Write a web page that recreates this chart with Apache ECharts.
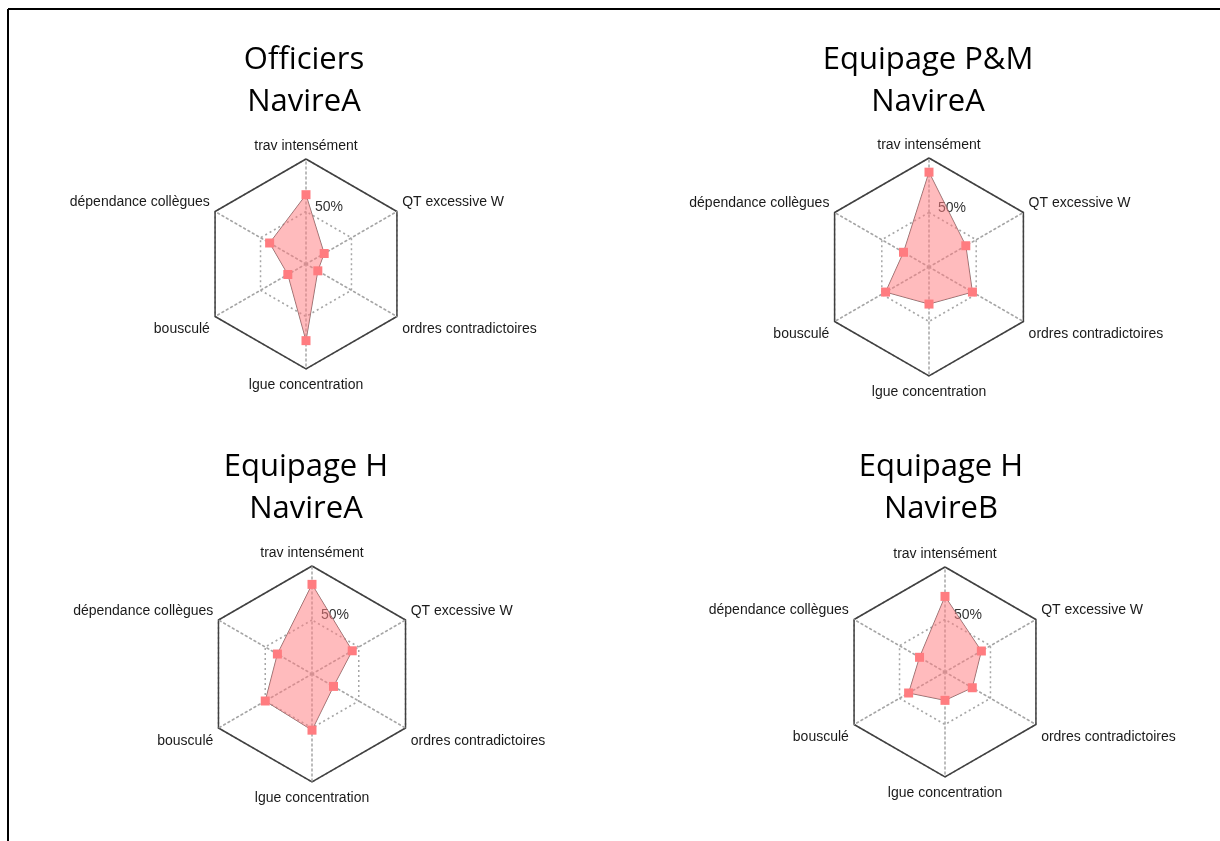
<!DOCTYPE html>
<html>
<head>
<meta charset="utf-8">
<script src="https://cdn.jsdelivr.net/npm/echarts@6/dist/echarts.min.js"></script>
<style>
  html, body { margin: 0; padding: 0; background: #fff; }
  #chart { width: 1220px; height: 841px; }
</style>
</head>
<body>
<div id="chart"></div>
<script>
// axes, counter-clockwise from the top (ECharts radar order)
const indicators = ['trav intensément', 'dépendance collègues', 'bousculé', 'lgue concentration', 'ordres contradictoires', 'QT excessive W'];
const axisMax = 100;

const titles = [
  ['Officiers', 'NavireA'],
  ['Equipage P&M', 'NavireA'],
  ['Equipage H', 'NavireA'],
  ['Equipage H', 'NavireB']
];

// % per axis, same order as indicators
const officiersA = [66, 40, 20, 73, 13, 20];
const equipagePMA = [87, 27, 46, 34, 46, 39];
const equipageHA = [83, 37, 50, 52, 23, 43];
const equipageHB = [72, 28, 40, 27, 30, 40];
const seriesValues = [officiersA, equipagePMA, equipageHA, equipageHB];

// layout per panel
const panels = [
  { center: [306, 264], radius: 105, titleX: 304, titleY: 39 },
  { center: [929, 267], radius: 109, titleX: 928, titleY: 39 },
  { center: [312, 674], radius: 108, titleX: 306, titleY: 446 },
  { center: [945, 672], radius: 105, titleX: 941, titleY: 446 }
];

const labelFont = 'Liberation Sans, Arial, sans-serif';
const dotted = { color: '#a6a6a6', type: [2, 3], width: 1.5 };

// nudge names a bit, like the Excel placement
const nameStyle = {
  top: {},
  up: { padding: [0, 0, 12, 0] },
  down: { padding: [20, 0, 0, 0] },
  bottom: { padding: [3, 0, 0, 0] }
};
const namePlace = ['top', 'up', 'down', 'bottom', 'down', 'up'];

const radars = [];
const series = [];
const graphics = [
  { type: 'line', shape: { x1: 8, y1: 9, x2: 1220, y2: 9 }, style: { stroke: '#000', lineWidth: 2 } },
  { type: 'line', shape: { x1: 8, y1: 9, x2: 8, y2: 841 }, style: { stroke: '#000', lineWidth: 2 } }
];

panels.forEach((p, k) => {
  // dotted grid, spokes and names
  radars.push({
    center: p.center,
    radius: p.radius,
    startAngle: 90,
    splitNumber: 2,
    shape: 'polygon',
    nameGap: 6,
    axisName: {
      color: '#1a1a1a', fontSize: 14, fontFamily: labelFont,
      formatter: name => '{' + namePlace[indicators.indexOf(name)] + '|' + name + '}',
      rich: nameStyle
    },
    indicator: indicators.map((name, i) => {
      const ind = { name: name, min: 0, max: axisMax };
      ind.axisLabel = i === 0
        ? { show: true, color: '#333', fontSize: 14, fontFamily: labelFont,
            margin: -9, align: 'left',
            formatter: v => (v === 50 ? '{p|50%}' : ''),
            rich: { p: { padding: [0, 0, 9, 0] } } }
        : { show: false };
      return ind;
    }),
    splitLine: { lineStyle: dotted },
    splitArea: { show: false },
    axisLine: { lineStyle: dotted },
    axisTick: { show: false }
  });
  // solid outer ring
  radars.push({
    center: p.center,
    radius: p.radius,
    startAngle: 90,
    splitNumber: 1,
    shape: 'polygon',
    axisName: { show: false },
    indicator: indicators.map(name => ({ name: name, min: 0, max: axisMax })),
    splitLine: { lineStyle: { color: '#404040', width: 1.5 } },
    splitArea: { show: false },
    axisLine: { show: false },
    axisTick: { show: false },
    axisLabel: { show: false }
  });

  series.push({
    type: 'radar',
    radarIndex: k * 2,
    symbol: 'rect',
    symbolSize: 9,
    itemStyle: { color: '#ff7c80' },
    lineStyle: { color: '#857070', width: 1 },
    areaStyle: { color: '#ff7c80', opacity: 0.52 },
    data: [{ value: seriesValues[k], name: titles[k].join(' ') }],
    z: 3
  });

  graphics.push({
    type: 'text',
    x: p.titleX,
    y: p.titleY,
    style: {
      text: titles[k].join('\n'),
      fill: '#000',
      font: '31px "Open Sans", sans-serif',
      lineHeight: 42,
      align: 'center',
      verticalAlign: 'top'
    }
  });
});

const chart = echarts.init(document.getElementById('chart'));
chart.setOption({
  animation: false,
  radar: radars,
  series: series,
  graphic: graphics
});
</script>
</body>
</html>
